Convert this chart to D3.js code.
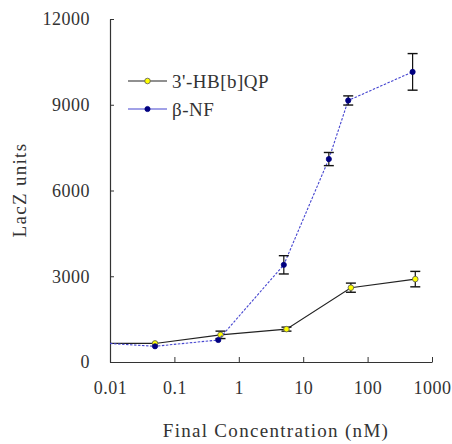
<!DOCTYPE html>
<html lang="en">
  <head>
    <meta charset="UTF-8" />
    <title>LacZ units</title>
    <style>
      body { margin: 0; background: #fff; }
      .domain, .tick line { stroke: #333; }
    </style>
  </head>
  <body>
    <svg width="452" height="444"></svg>

    <script src="https://d3js.org/d3.v7.min.js"></script>
    <script>
      // concentrations (nM); first point is the untreated level drawn at the axis
      const hbqpConc = [0.01, 0.05, 0.52, 5.5, 55, 550];
      const hbqpVal = [650, 650, 950, 1150, 2600, 2900];
      const hbqpErr = [0, 0, 130, 70, 160, 270];

      const bnfConc = [0.01, 0.05, 0.48, 5, 25, 50, 500];
      const bnfVal = [650, 550, 770, 3400, 7100, 9150, 10150];
      const bnfErr = [0, 0, 0, 320, 230, 160, 640];

      const xTicks = [0.01, 0.1, 1, 10, 100, 1000];
      const yTicks = [0, 3000, 6000, 9000, 12000];

      const serif = "'Liberation Serif', 'Times New Roman', Times, serif";

      const svg = d3.select("svg").attr("font-family", serif);

      const x = d3.scaleLog().domain([0.01, 1000]).range([110, 432]);
      const y = d3.scaleLinear().domain([0, 12000]).range([362, 19]);

      // axes
      svg
        .append("g")
        .attr("transform", "translate(0,362)")
        .call(d3.axisBottom(x).tickValues(xTicks).tickFormat(d3.format("~g")).tickSizeInner(-5).tickSizeOuter(0).tickPadding(16))
        .attr("font-family", serif)
        .attr("font-size", 18)
        .call((g) => g.selectAll(".tick text").attr("dy", "0.9em").attr("fill", "#333").attr("letter-spacing", 0.5));

      svg
        .append("g")
        .attr("transform", "translate(110,0)")
        .call(d3.axisLeft(y).tickValues(yTicks).tickFormat(d3.format("d")).tickSizeInner(-4).tickSizeOuter(0).tickPadding(20))
        .attr("font-family", serif)
        .attr("font-size", 18)
        .call((g) => g.selectAll(".tick text").attr("fill", "#333").attr("letter-spacing", 0.5));

      svg.selectAll(".domain").attr("stroke-width", 1.2);

      // axis titles
      svg
        .append("text")
        .attr("x", 276)
        .attr("y", 437)
        .attr("text-anchor", "middle")
        .attr("fill", "#333")
        .attr("font-size", 19)
        .attr("letter-spacing", 1.3)
        .text("Final Concentration (nM)");

      svg
        .append("text")
        .attr("transform", "translate(26,190) rotate(-90)")
        .attr("text-anchor", "middle")
        .attr("fill", "#333")
        .attr("font-size", 19)
        .attr("letter-spacing", 1.3)
        .text("LacZ units");

      const series = [
        { name: "3'-HB[b]QP", conc: hbqpConc, val: hbqpVal, err: hbqpErr, line: "#222", dash: null, fill: "#ffff00", stroke: "#555", r: 2.8 },
        { name: "β-NF", conc: bnfConc, val: bnfVal, err: bnfErr, line: "#4545d0", dash: "2.5,1.5", fill: "#000080", stroke: "#000080", r: 2.6 },
      ];

      const line = d3
        .line()
        .x((d) => x(d.c))
        .y((d) => y(d.v));

      series.forEach((s) => {
        const pts = s.conc.map((c, i) => ({ c: c, v: s.val[i], e: s.err[i] }));
        const g = svg.append("g");

        g.append("path")
          .datum(pts)
          .attr("d", line)
          .attr("fill", "none")
          .attr("stroke", s.line)
          .attr("stroke-width", 1.1)
          .attr("stroke-dasharray", s.dash);

        // error bars
        const bars = g.selectAll(".err").data(pts.filter((d) => d.e > 0)).enter().append("g");
        bars
          .append("line")
          .attr("x1", (d) => x(d.c))
          .attr("x2", (d) => x(d.c))
          .attr("y1", (d) => y(d.v + d.e))
          .attr("y2", (d) => y(d.v - d.e))
          .attr("stroke", "#111")
          .attr("stroke-width", 1.2);
        [1, -1].forEach((sign) => {
          bars
            .append("line")
            .attr("x1", (d) => x(d.c) - 5)
            .attr("x2", (d) => x(d.c) + 5)
            .attr("y1", (d) => y(d.v + sign * d.e))
            .attr("y2", (d) => y(d.v + sign * d.e))
            .attr("stroke", "#111")
            .attr("stroke-width", 1.4);
        });

        // markers (none on the untreated level at the axis)
        g.selectAll("circle")
          .data(pts.slice(1))
          .enter()
          .append("circle")
          .attr("cx", (d) => x(d.c))
          .attr("cy", (d) => y(d.v))
          .attr("r", s.r)
          .attr("fill", s.fill)
          .attr("stroke", s.stroke)
          .attr("stroke-width", 0.8);
      });

      // legend
      const legend = svg.append("g").attr("transform", "translate(128,81)");
      series.forEach((s, i) => {
        const row = legend.append("g").attr("transform", `translate(0,${i * 28})`);
        row.append("line").attr("x1", 0).attr("x2", 39).attr("stroke", s.line).attr("stroke-width", 1.1);
        row.append("circle").attr("cx", 19.5).attr("r", s.r).attr("fill", s.fill).attr("stroke", s.stroke).attr("stroke-width", 0.8);
        row.append("text").attr("x", 44).attr("dy", "0.35em").attr("fill", "#333").attr("font-size", 19).attr("letter-spacing", 0.5).text(s.name);
      });
    </script>
  </body>
</html>
